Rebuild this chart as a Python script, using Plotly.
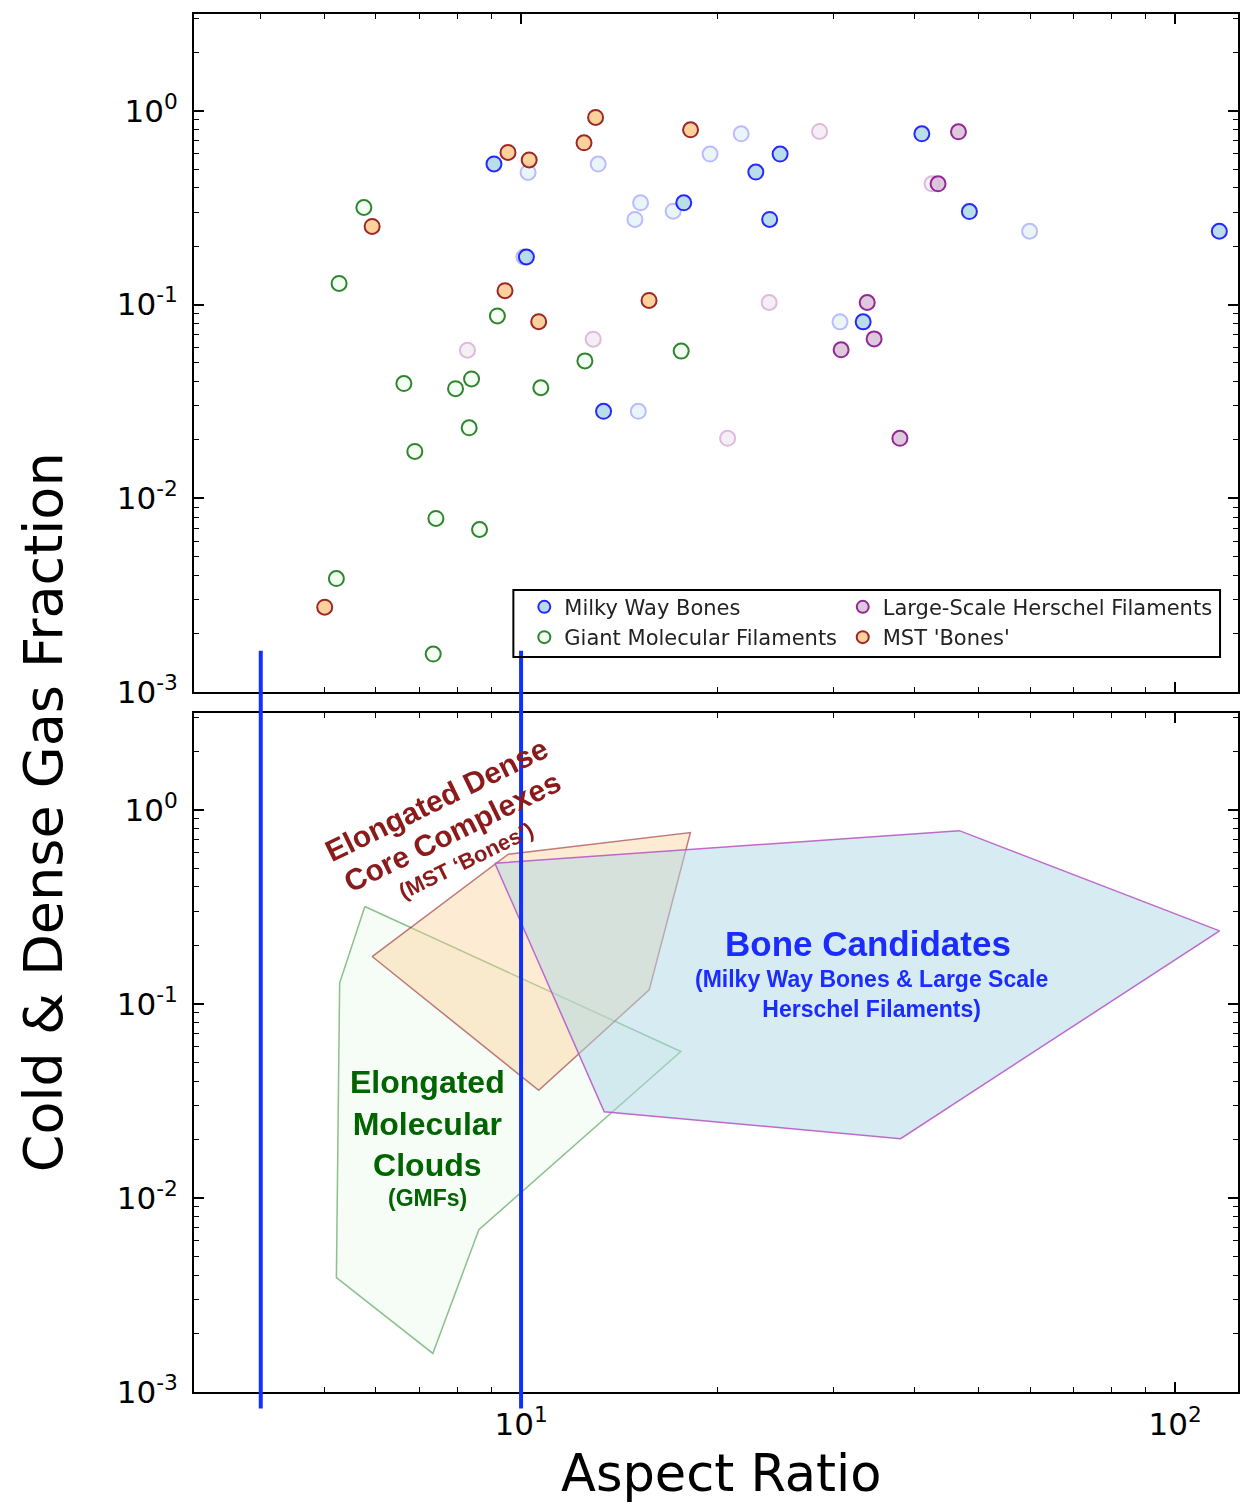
import math
import plotly.graph_objects as go

# ---------------- data ----------------
mw_x = [9.09, 10.19, 13.37, 17.73, 22.85, 24.89, 23.99, 33.34, 40.99, 48.46, 116.8]
mw_y = [0.532, 0.176, 0.0281, 0.335, 0.483, 0.598, 0.275, 0.0814, 0.761, 0.302, 0.239]
mw_faint_x = [10.25, 13.12, 15.23, 14.93, 17.08, 10.10, 15.11, 21.70, 19.45, 30.73, 59.9]
mw_faint_y = [0.481, 0.531, 0.335, 0.275, 0.3035, 0.176, 0.0281, 0.761, 0.598, 0.0814, 0.239]

lsh_x = [46.63, 43.40, 33.82, 34.65, 30.85, 37.94]
lsh_y = [0.779, 0.420, 0.1025, 0.0665, 0.0584, 0.0204]
lsh_faint_x = [28.6, 42.48, 23.95, 12.89, 8.28, 20.69]
lsh_faint_y = [0.783, 0.420, 0.1025, 0.0663, 0.0581, 0.0204]

gmf_x = [5.75, 5.27, 9.20, 12.52, 6.62, 7.94, 8.40, 10.72, 8.33, 6.88, 7.41, 8.64, 5.22, 7.34, 17.57]
gmf_y = [0.317, 0.1285, 0.0874, 0.0512, 0.0391, 0.0368, 0.0413, 0.0372, 0.0231, 0.01745,
         0.00787, 0.0069, 0.00385, 0.00157, 0.0575]

mst_x = [13.0, 12.48, 9.55, 10.29, 5.92, 9.45, 10.64, 15.69, 18.16, 5.01]
mst_y = [0.925, 0.684, 0.610, 0.558, 0.253, 0.118, 0.0816, 0.105, 0.798, 0.00274]

# region outlines (bottom panel)
gmf_hull_x = [5.77, 5.28, 5.22, 7.33, 8.62, 17.55]
gmf_hull_y = [0.317, 0.1278, 0.00388, 0.00158, 0.00686, 0.0568]
mst_hull_x = [5.92, 9.56, 18.15, 15.70, 10.64]
mst_hull_y = [0.1752, 0.590, 0.762, 0.118, 0.0358]
bone_hull_x = [9.12, 46.77, 116.9, 38.04, 13.40]
bone_hull_y = [0.530, 0.780, 0.2375, 0.0202, 0.0278]

# stray vertical marks in the reference image
stray_x = [4.0, 10.0]

legend_names = ["Milky Way Bones", "Large-Scale Herschel Filaments",
                "Giant Molecular Filaments", "MST 'Bones'"]
y_tickvals = [1e-3, 1e-2, 1e-1, 1]
y_ticktext = ["10<sup>-3</sup>", "10<sup>-2</sup>", "10<sup>-1</sup>", "10<sup>0</sup>"]
x_tickvals = [10, 100]
x_ticktext = ["10<sup>1</sup>", "10<sup>2</sup>"]

# ---------------- figure ----------------
fig = go.Figure()

def closed(v):
    return list(v) + [v[0]]

MS = 15
LW = 2

# top panel: faint points first
fig.add_trace(go.Scatter(x=mw_faint_x, y=mw_faint_y, mode="markers", opacity=0.27,
                         marker=dict(size=MS, color="#add8e6", line=dict(color="#0000ff", width=LW)),
                         showlegend=False, xaxis="x", yaxis="y", hoverinfo="skip"))
fig.add_trace(go.Scatter(x=lsh_faint_x, y=lsh_faint_y, mode="markers", opacity=0.27,
                         marker=dict(size=MS, color="#d8bfd8", line=dict(color="#800080", width=LW)),
                         showlegend=False, xaxis="x", yaxis="y", hoverinfo="skip"))

fig.add_trace(go.Scatter(x=mw_x, y=mw_y, mode="markers", name=legend_names[0], opacity=0.85,
                         marker=dict(size=MS, color="#add8e6", line=dict(color="#0000ff", width=LW)),
                         legend="legend", xaxis="x", yaxis="y"))
fig.add_trace(go.Scatter(x=lsh_x, y=lsh_y, mode="markers", name=legend_names[1], opacity=0.85,
                         marker=dict(size=MS, color="#d8bfd8", line=dict(color="#800080", width=LW)),
                         legend="legend2", xaxis="x", yaxis="y"))
fig.add_trace(go.Scatter(x=gmf_x, y=gmf_y, mode="markers", name=legend_names[2], opacity=0.85,
                         marker=dict(size=MS, color="#f0fff0", line=dict(color="#0a700a", width=LW)),
                         legend="legend", xaxis="x", yaxis="y"))
fig.add_trace(go.Scatter(x=mst_x, y=mst_y, mode="markers", name=legend_names[3], opacity=0.85,
                         marker=dict(size=MS, color="#fdc98a", line=dict(color="#8b0000", width=LW)),
                         legend="legend2", xaxis="x", yaxis="y"))

# bottom panel: regions
fig.add_trace(go.Scatter(x=closed(gmf_hull_x), y=closed(gmf_hull_y), mode="lines", fill="toself",
                         fillcolor="rgba(215,245,215,0.22)", line=dict(color="rgba(30,130,30,0.5)", width=1.5),
                         showlegend=False, xaxis="x2", yaxis="y2", hoverinfo="skip"))
fig.add_trace(go.Scatter(x=closed(mst_hull_x), y=closed(mst_hull_y), mode="lines", fill="toself",
                         fillcolor="rgba(252,208,150,0.42)", line=dict(color="rgba(150,40,50,0.6)", width=1.5),
                         showlegend=False, xaxis="x2", yaxis="y2", hoverinfo="skip"))
fig.add_trace(go.Scatter(x=closed(bone_hull_x), y=closed(bone_hull_y), mode="lines", fill="toself",
                         fillcolor="rgba(173,216,230,0.5)", line=dict(color="rgba(185,90,200,0.9)", width=1.5),
                         showlegend=False, xaxis="x2", yaxis="y2", hoverinfo="skip"))

for sx in stray_x:
    fig.add_shape(type="line", xref="x2", yref="paper", x0=sx, x1=sx, y0=-0.012, y1=0.538,
                  line=dict(color="#1030ff", width=4), layer="above")

# legend frame spanning both legend columns
fig.add_shape(type="rect", xref="paper", yref="paper", x0=0.3059, x1=0.9828, y0=0.5334, y1=0.5820,
              line=dict(color="black", width=2), fillcolor="rgba(0,0,0,0)", layer="above")

TICKFONT = dict(family="DejaVu Sans", size=31, color="black")
x_minor = [m * 10 ** e for e in range(0, 3) for m in range(2, 10)]
y_minor = [m * 10 ** e for e in range(-3, 1) for m in range(2, 10)]

common_x = dict(type="log", range=[0.5, 2.096], showgrid=False, zeroline=False,
                showline=True, linecolor="black", linewidth=2, mirror="allticks",
                ticks="inside", ticklen=10, tickwidth=1.5, tickcolor="black",
                tickmode="array", tickvals=x_tickvals, ticktext=x_ticktext, tickfont=TICKFONT,
                minor=dict(ticks="inside", ticklen=5, tickwidth=1, tickcolor="black",
                           tickmode="array", tickvals=x_minor, showgrid=False))
common_y = dict(type="log", range=[-3, 0.5], showgrid=False, zeroline=False,
                showline=True, linecolor="black", linewidth=2, mirror="allticks",
                ticks="inside", ticklen=10, tickwidth=1.5, tickcolor="black",
                tickmode="array", tickvals=y_tickvals, ticktext=y_ticktext, tickfont=TICKFONT,
                ticklabelstandoff=8,
                minor=dict(ticks="inside", ticklen=5, tickwidth=1, tickcolor="black",
                           tickmode="array", tickvals=y_minor, showgrid=False))

LEGFONT = dict(family="DejaVu Sans", size=21, color="#222")
fig.update_layout(
    width=1241, height=1504, autosize=False,
    margin=dict(l=194, r=1, t=14, b=112),
    paper_bgcolor="white", plot_bgcolor="white",
    xaxis=dict(common_x, domain=[0, 1], anchor="y", showticklabels=False),
    yaxis=dict(common_y, domain=[0.508, 1], anchor="x"),
    xaxis2=dict(common_x, domain=[0, 1], anchor="y2", ticklabelstandoff=4),
    yaxis2=dict(common_y, domain=[0, 0.493], anchor="x2"),
    legend=dict(orientation="v", x=0.3164, y=0.5844, xanchor="left", yanchor="top",
                borderwidth=0, bgcolor="rgba(0,0,0,0)", font=LEGFONT,
                itemsizing="constant", tracegroupgap=0),
    legend2=dict(orientation="v", x=0.6214, y=0.5844, xanchor="left", yanchor="top",
                 borderwidth=0, bgcolor="rgba(0,0,0,0)", font=LEGFONT,
                 itemsizing="constant", tracegroupgap=0),
    showlegend=True,
)

BOLD = "Liberation Sans, Arial, sans-serif"
ann = [
    dict(text="Cold & Dense Gas Fraction", xref="paper", yref="paper", x=-0.1435, y=0.4209,
         textangle=-90, font=dict(family="DejaVu Sans", size=54, color="black")),
    dict(text="Aspect Ratio", xref="paper", yref="paper", x=0.5048, y=-0.0595,
         font=dict(family="DejaVu Sans", size=51, color="black")),
    dict(text="<b>Elongated Dense</b>", x=0.8714, y=0.0505, textangle=-26,
         font=dict(family=BOLD, size=30, color="#8b1a1a")),
    dict(text="<b>Core Complexes</b>", x=0.8957, y=-0.1143, textangle=-26,
         font=dict(family=BOLD, size=30, color="#8b1a1a")),
    dict(text="<b>(MST \u2018Bones\u2019)</b>", x=0.917, y=-0.2636, textangle=-26,
         font=dict(family=BOLD, size=22, color="#8b1a1a")),
    dict(text="<b>Bone Candidates</b>", x=1.5304, y=-0.691,
         font=dict(family=BOLD, size=35, color="#1a2cff")),
    dict(text="<b>(Milky Way Bones & Large Scale<br>Herschel Filaments)</b>", x=1.535, y=-0.9485,
         font=dict(family=BOLD, size=23, color="#1a2cff")),
    dict(text="<b>Elongated<br>Molecular<br>Clouds</b>", x=0.8577, y=-1.618,
         font=dict(family=BOLD, size=32, color="#006400")),
    dict(text="<b>(GMFs)</b>", x=0.8577, y=-1.999,
         font=dict(family=BOLD, size=23, color="#006400")),
]
for a in ann:
    a.setdefault("xref", "x2")
    a.setdefault("yref", "y2")
    a["showarrow"] = False
    a["xanchor"] = "center"
    a["yanchor"] = "middle"
fig.update_layout(annotations=ann)

fig.write_html("out.html")
